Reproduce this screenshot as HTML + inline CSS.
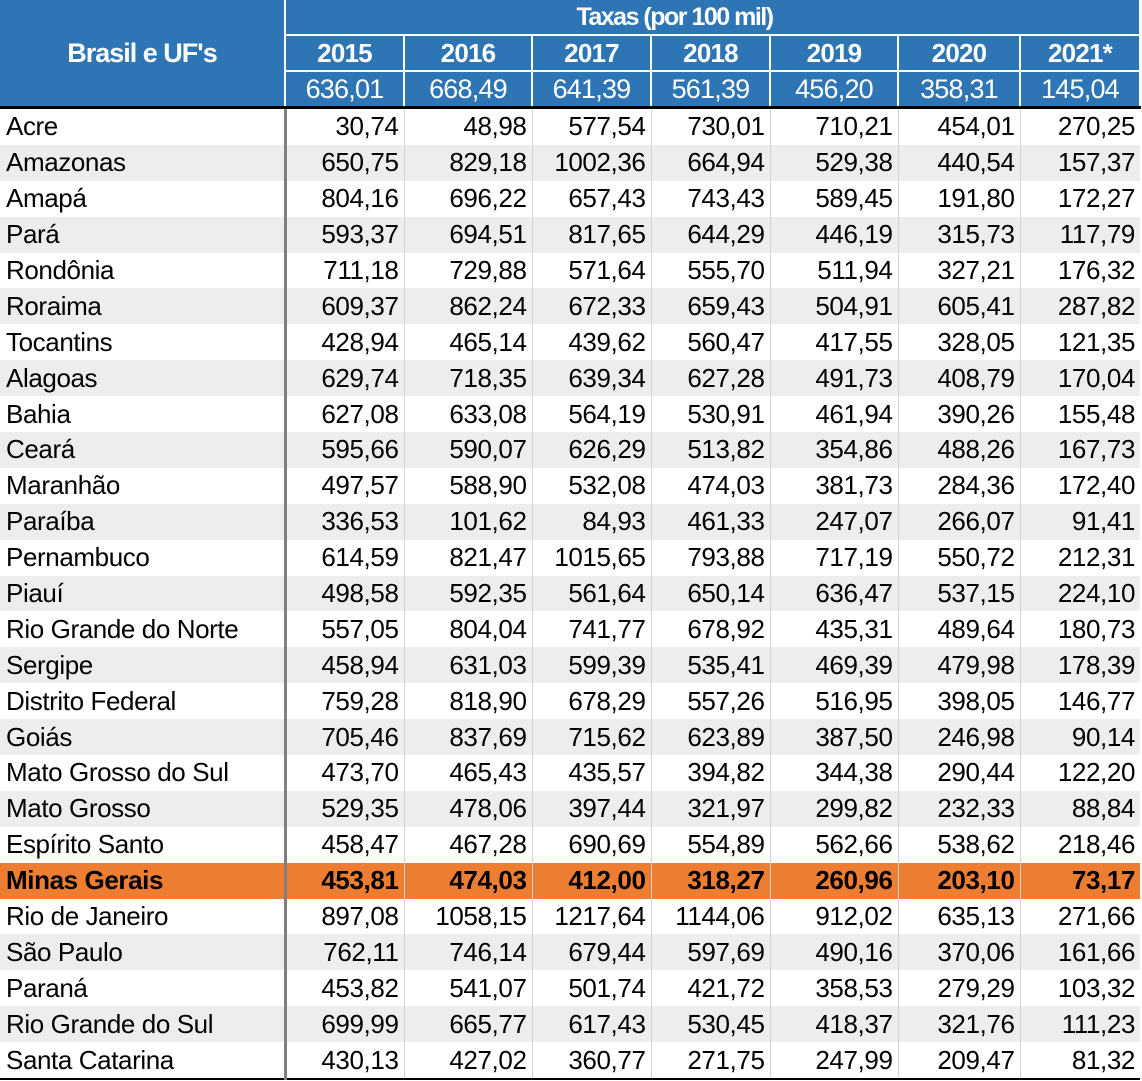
<!DOCTYPE html>
<html><head><meta charset="utf-8"><style>
body{margin:0;background:#fff;width:1142px;height:1081px;overflow:hidden}
table{position:absolute;left:0;top:0;border-collapse:collapse;table-layout:fixed;font-family:"Liberation Sans",Arial,sans-serif}
td{padding:0;white-space:nowrap;overflow:hidden}
.h td{background:#2E75B6;color:#fff;text-align:center;border:2px solid #fff;border-top:none}
.h1 td{height:34px;font-weight:bold;font-size:24px;letter-spacing:-1.5px}
.h2 td{height:34px;font-weight:bold;font-size:26px;letter-spacing:-0.8px}
.h3 td{height:34px;font-size:27px;letter-spacing:-0.8px;border-bottom:3px solid #000}
.d td{height:35.9px;font-size:26px;text-align:right;padding-right:5px;border-left:1px solid #d4d4d4;color:#000;letter-spacing:-0.4px}
.d td:first-child{text-align:left;padding-left:6px;padding-right:0;border-left:none;border-right:3px solid #7f7f7f}
.d:nth-child(even) td{background:#ededed}
.d.o td{background:#ED7D31;font-weight:bold}
.last td{border-bottom:2px solid #000}
</style></head><body>
<table>
<colgroup><col style="width:285px"><col style="width:119px"><col style="width:128px"><col style="width:119px"><col style="width:119px"><col style="width:128px"><col style="width:122px"><col style="width:120px"></colgroup>
<tbody>
<tr class="h h1"><td rowspan="3" style="font-size:27px;letter-spacing:-1px;border-left:none;border-bottom:3px solid #000">Brasil e UF's</td><td colspan="7" style="padding-right:76px;font-size:25px">Taxas (por 100 mil)</td></tr>
<tr class="h h2"><td>2015</td><td>2016</td><td>2017</td><td>2018</td><td>2019</td><td>2020</td><td>2021*</td></tr>
<tr class="h h3"><td>636,01</td><td>668,49</td><td>641,39</td><td>561,39</td><td>456,20</td><td>358,31</td><td>145,04</td></tr>
</tbody>
<tbody>
<tr class="d"><td>Acre</td><td>30,74</td><td>48,98</td><td>577,54</td><td>730,01</td><td>710,21</td><td>454,01</td><td>270,25</td></tr>
<tr class="d"><td>Amazonas</td><td>650,75</td><td>829,18</td><td>1002,36</td><td>664,94</td><td>529,38</td><td>440,54</td><td>157,37</td></tr>
<tr class="d"><td>Amapá</td><td>804,16</td><td>696,22</td><td>657,43</td><td>743,43</td><td>589,45</td><td>191,80</td><td>172,27</td></tr>
<tr class="d"><td>Pará</td><td>593,37</td><td>694,51</td><td>817,65</td><td>644,29</td><td>446,19</td><td>315,73</td><td>117,79</td></tr>
<tr class="d"><td>Rondônia</td><td>711,18</td><td>729,88</td><td>571,64</td><td>555,70</td><td>511,94</td><td>327,21</td><td>176,32</td></tr>
<tr class="d"><td>Roraima</td><td>609,37</td><td>862,24</td><td>672,33</td><td>659,43</td><td>504,91</td><td>605,41</td><td>287,82</td></tr>
<tr class="d"><td>Tocantins</td><td>428,94</td><td>465,14</td><td>439,62</td><td>560,47</td><td>417,55</td><td>328,05</td><td>121,35</td></tr>
<tr class="d"><td>Alagoas</td><td>629,74</td><td>718,35</td><td>639,34</td><td>627,28</td><td>491,73</td><td>408,79</td><td>170,04</td></tr>
<tr class="d"><td>Bahia</td><td>627,08</td><td>633,08</td><td>564,19</td><td>530,91</td><td>461,94</td><td>390,26</td><td>155,48</td></tr>
<tr class="d"><td>Ceará</td><td>595,66</td><td>590,07</td><td>626,29</td><td>513,82</td><td>354,86</td><td>488,26</td><td>167,73</td></tr>
<tr class="d"><td>Maranhão</td><td>497,57</td><td>588,90</td><td>532,08</td><td>474,03</td><td>381,73</td><td>284,36</td><td>172,40</td></tr>
<tr class="d"><td>Paraíba</td><td>336,53</td><td>101,62</td><td>84,93</td><td>461,33</td><td>247,07</td><td>266,07</td><td>91,41</td></tr>
<tr class="d"><td>Pernambuco</td><td>614,59</td><td>821,47</td><td>1015,65</td><td>793,88</td><td>717,19</td><td>550,72</td><td>212,31</td></tr>
<tr class="d"><td>Piauí</td><td>498,58</td><td>592,35</td><td>561,64</td><td>650,14</td><td>636,47</td><td>537,15</td><td>224,10</td></tr>
<tr class="d"><td>Rio Grande do Norte</td><td>557,05</td><td>804,04</td><td>741,77</td><td>678,92</td><td>435,31</td><td>489,64</td><td>180,73</td></tr>
<tr class="d"><td>Sergipe</td><td>458,94</td><td>631,03</td><td>599,39</td><td>535,41</td><td>469,39</td><td>479,98</td><td>178,39</td></tr>
<tr class="d"><td>Distrito Federal</td><td>759,28</td><td>818,90</td><td>678,29</td><td>557,26</td><td>516,95</td><td>398,05</td><td>146,77</td></tr>
<tr class="d"><td>Goiás</td><td>705,46</td><td>837,69</td><td>715,62</td><td>623,89</td><td>387,50</td><td>246,98</td><td>90,14</td></tr>
<tr class="d"><td>Mato Grosso do Sul</td><td>473,70</td><td>465,43</td><td>435,57</td><td>394,82</td><td>344,38</td><td>290,44</td><td>122,20</td></tr>
<tr class="d"><td>Mato Grosso</td><td>529,35</td><td>478,06</td><td>397,44</td><td>321,97</td><td>299,82</td><td>232,33</td><td>88,84</td></tr>
<tr class="d"><td>Espírito Santo</td><td>458,47</td><td>467,28</td><td>690,69</td><td>554,89</td><td>562,66</td><td>538,62</td><td>218,46</td></tr>
<tr class="d o"><td>Minas Gerais</td><td>453,81</td><td>474,03</td><td>412,00</td><td>318,27</td><td>260,96</td><td>203,10</td><td>73,17</td></tr>
<tr class="d"><td>Rio de Janeiro</td><td>897,08</td><td>1058,15</td><td>1217,64</td><td>1144,06</td><td>912,02</td><td>635,13</td><td>271,66</td></tr>
<tr class="d"><td>São Paulo</td><td>762,11</td><td>746,14</td><td>679,44</td><td>597,69</td><td>490,16</td><td>370,06</td><td>161,66</td></tr>
<tr class="d"><td>Paraná</td><td>453,82</td><td>541,07</td><td>501,74</td><td>421,72</td><td>358,53</td><td>279,29</td><td>103,32</td></tr>
<tr class="d"><td>Rio Grande do Sul</td><td>699,99</td><td>665,77</td><td>617,43</td><td>530,45</td><td>418,37</td><td>321,76</td><td>111,23</td></tr>
<tr class="d last"><td>Santa Catarina</td><td>430,13</td><td>427,02</td><td>360,77</td><td>271,75</td><td>247,99</td><td>209,47</td><td>81,32</td></tr>
</tbody>
</table>
</body></html>
